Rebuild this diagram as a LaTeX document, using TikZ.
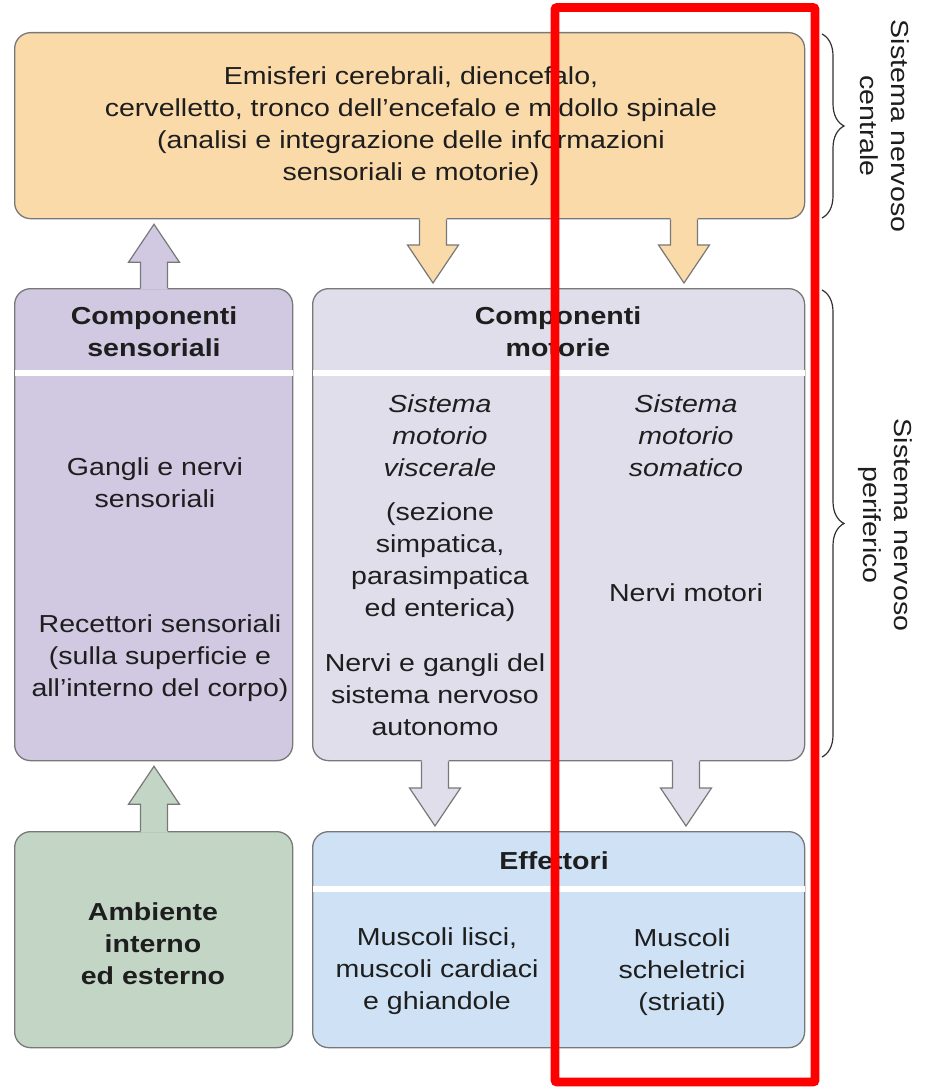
\documentclass[tikz,border=0pt]{standalone}
\usepackage{fontspec}
\setmainfont{Liberation Sans}[FakeStretch=1.16]
\usetikzlibrary{calc,decorations.pathreplacing}
\definecolor{topfill}{RGB}{251,218,170}
\definecolor{sensfill}{RGB}{208,201,225}
\definecolor{motfill}{RGB}{224,222,235}
\definecolor{greenfill}{RGB}{195,214,198}
\definecolor{bluefill}{RGB}{206,225,245}
\definecolor{bordergray}{RGB}{120,120,120}
\definecolor{bracegray}{RGB}{50,50,50}
\definecolor{txtcol}{RGB}{30,30,30}
\newcommand\blockarrow[4]{%
  \fill[#1] let \p1=(#2 |- #3), \p2=(#2 |- #4), \n1={sign(\y2-\y1)} in
    (\x1-13.5pt,\y1-\n1*1.5pt) -- (\x1-13.5pt,\y2-\n1*43pt) -- (\x1-25.5pt,\y2-\n1*43pt)
    -- (\x1,\y2-\n1*5pt) -- (\x1+25.5pt,\y2-\n1*43pt) -- (\x1+13.5pt,\y2-\n1*43pt)
    -- (\x1+13.5pt,\y1-\n1*1.5pt) -- cycle;
  \draw[arrowline] let \p1=(#2 |- #3), \p2=(#2 |- #4), \n1={sign(\y2-\y1)} in
    (\x1-13.5pt,\y1) -- (\x1-13.5pt,\y2-\n1*43pt) -- (\x1-25.5pt,\y2-\n1*43pt)
    -- (\x1,\y2-\n1*5pt) -- (\x1+25.5pt,\y2-\n1*43pt) -- (\x1+13.5pt,\y2-\n1*43pt)
    -- (\x1+13.5pt,\y1);
}
\begin{document}
\begin{tikzpicture}[x=1pt,y=-1pt,
  box/.style={draw=bordergray, line width=1.3pt, rounded corners=16pt, inner sep=0pt, anchor=north west},
  txt/.style={align=center, text=txtcol, inner sep=0pt, font=\fontsize{24.6}{32}\selectfont},
  hd/.style={txt, font=\fontsize{24.6}{32}\selectfont\bfseries},
  it/.style={txt, font=\fontsize{24.6}{32}\selectfont\itshape},
  sepline/.style={white, line width=6pt, shorten <=0.7pt, shorten >=0.7pt},
  arrowline/.style={draw=bordergray, line width=1.2pt, line join=miter},
  bracestyle/.style={draw=bracegray, line width=1.2pt, decorate, decoration={brace, amplitude=22pt}},
  sidelabel/.style={txt, rotate=-90, font=\fontsize{24.6}{31}\selectfont},
  redframe/.style={draw=red, line width=8.7pt, rounded corners=2pt}
]
\useasboundingbox[fill=white] (0,0) rectangle (926,1089);

% boxes
\node[box, fill=topfill, minimum width=790pt, minimum height=186pt] (cns) at (14,32) {};
\node[box, fill=sensfill, minimum width=278pt, minimum height=472pt] (sens) at (14,288) {};
\node[box, fill=motfill, minimum width=492pt, minimum height=472pt] (mot) at (312,288) {};
\node[box, fill=greenfill, minimum width=278pt, minimum height=216pt] (env) at (14,831) {};
\node[box, fill=bluefill, minimum width=492pt, minimum height=216pt] (eff) at (312,831) {};

% header separators
\draw[sepline] (sens.west |- 0,373) -- (sens.east |- 0,373);
\draw[sepline] (mot.west |- 0,373) -- (mot.east |- 0,373);
\draw[sepline] (eff.west |- 0,889) -- (eff.east |- 0,889);

% texts
\node[txt] (tcns) at (411,126) {Emisferi cerebrali, diencefalo,\\cervelletto, tronco dell’encefalo e midollo spinale\\(analisi e integrazione delle informazioni\\sensoriali e motorie)};
\node[hd] (tsens) at (154,332) {Componenti\\sensoriali};
\node[txt] (tgangli) at (155,483) {Gangli e nervi\\sensoriali};
\node[txt] (trecet) at (160,658) {Recettori sensoriali\\(sulla superficie e\\all’interno del corpo)};
\node[hd] (tmot) at (558,332) {Componenti\\motorie};
\node[it] (tvisc) at (440,436) {Sistema\\motorio\\viscerale};
\node[txt] (tsez) at (440,562) {(sezione\\simpatica,\\parasimpatica\\ed enterica)};
\node[txt] (tauto) at (435,695) {Nervi e gangli del\\sistema nervoso\\autonomo};
\node[it] (tsom) at (686,436) {Sistema\\motorio\\somatico};
\node[txt] (tnervi) at (686,593) {Nervi motori};
\node[hd] (tenv) at (153,944) {Ambiente\\interno\\ed esterno};
\node[hd] (teff) at (554,861) {Effettori};
\node[txt] (tlisci) at (437,971) {Muscoli lisci,\\muscoli cardiaci\\e ghiandole};
\node[txt] (tschel) at (682,972) {Muscoli\\scheletrici\\(striati)};

% block arrows
\blockarrow{topfill}{433,0}{cns.south}{mot.north}
\blockarrow{topfill}{684,0}{cns.south}{mot.north}
\blockarrow{sensfill}{154,0}{sens.north}{cns.south}
\blockarrow{motfill}{435,0}{mot.south}{eff.north}
\blockarrow{motfill}{686,0}{mot.south}{eff.north}
\blockarrow{greenfill}{154,0}{env.north}{sens.south}

% braces
\coordinate (b1a) at (822,34);
\coordinate (b1b) at (822,218);
\coordinate (b2a) at (822,290);
\coordinate (b2b) at (822,757);
\draw[bracestyle] (b1a) -- (b1b);
\draw[bracestyle] (b2a) -- (b2b);
\node[sidelabel] (lcns) at (885,126) {Sistema nervoso\\centrale};
\node[sidelabel] (lsnp) at (885,525) {Sistema nervoso\\periferico};

% red frame
\draw[redframe] (555,7.5) rectangle (815,1082);
\end{tikzpicture}
\end{document}
